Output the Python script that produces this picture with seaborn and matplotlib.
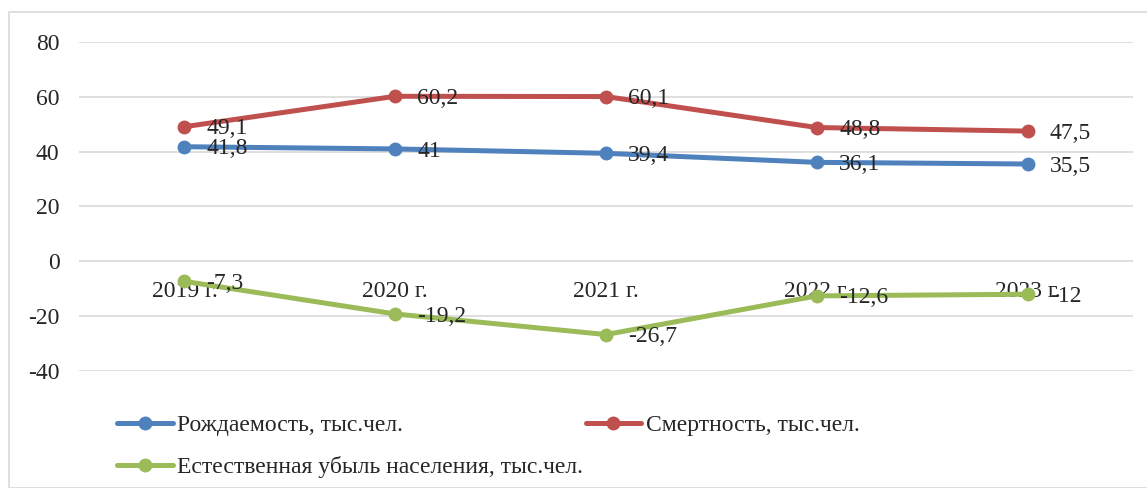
import pandas as pd
import seaborn as sns
import matplotlib.pyplot as plt
from matplotlib.patches import Rectangle

years = ["2019 г.", "2020 г.", "2021 г.", "2022 г.", "2023 г."]
births = [41.8, 41, 39.4, 36.1, 35.5]
deaths = [49.1, 60.2, 60.1, 48.8, 47.5]
natural = [-7.3, -19.2, -26.7, -12.6, -12]

series_names = [
    "Рождаемость, тыс.чел.",
    "Смертность, тыс.чел.",
    "Естественная убыль населения, тыс.чел.",
]
colors = ["#4F81BD", "#C0504D", "#9BBB59"]

sns.set_style("white")
plt.rcParams["font.family"] = ["Liberation Serif", "DejaVu Serif"]
plt.rcParams["axes.unicode_minus"] = False

FS = 17

# --- long-form data ---
rows = []
for name, vals in zip(series_names, [births, deaths, natural]):
    for i, v in enumerate(vals):
        rows.append({"idx": i, "value": v, "series": name})
df = pd.DataFrame(rows)


def fmt(v):
    s = f"{v:g}"
    return s.replace(".", ",")


fig = plt.figure(figsize=(11.47, 4.88), dpi=100)
ax = fig.add_axes([79 / 1147, 1 - 371 / 488, (1133 - 79) / 1147, (371 - 42) / 488])

sns.lineplot(
    data=df, x="idx", y="value", hue="series", hue_order=series_names,
    palette=colors, marker="o", markersize=10, markeredgewidth=0,
    linewidth=3.6, ax=ax, zorder=3, legend=True,
)

ax.set_xlim(-0.5, len(years) - 0.5)
ax.set_ylim(-40, 80)
ax.set_yticks(range(-40, 81, 20))
ax.tick_params(axis="y", labelsize=FS, length=0, pad=14)
ax.set_xticks([])
ax.set_xlabel("")
ax.set_ylabel("")
ax.grid(axis="y", color="#D9D9D9", linewidth=1.2)
ax.set_axisbelow(True)
for sp in ax.spines.values():
    sp.set_visible(False)

# category labels sit on the zero line, under the lines
for i, lab in enumerate(years):
    ax.annotate(lab, (i, 0), xytext=(0, -21.5), textcoords="offset points",
                ha="center", va="center", fontsize=FS, zorder=2)

# data labels
for name, vals in zip(series_names, [births, deaths, natural]):
    for i, v in enumerate(vals):
        ax.annotate(fmt(v), (i, v), xytext=(16, -1.5), textcoords="offset points",
                    ha="left", va="center", fontsize=FS, zorder=4)

# legend below, two columns
handles, labels = ax.get_legend_handles_labels()
ax.legend_.remove()
order = [0, 2, 1]
fig.legend([handles[k] for k in order], [labels[k] for k in order],
           ncol=2, loc="upper left", bbox_to_anchor=(96 / 1147, 1 - 393 / 488),
           frameon=False, fontsize=FS, handlelength=2.35, handletextpad=0.2,
           columnspacing=0.1, labelspacing=0.86)

# outer chart border
fig.patches.append(Rectangle((9 / 1147, 0), 1.2, 1 - 12 / 488, transform=fig.transFigure,
                             fill=False, edgecolor="#D9D9D9", linewidth=1.2))

fig.savefig("out.png", dpi=100)
